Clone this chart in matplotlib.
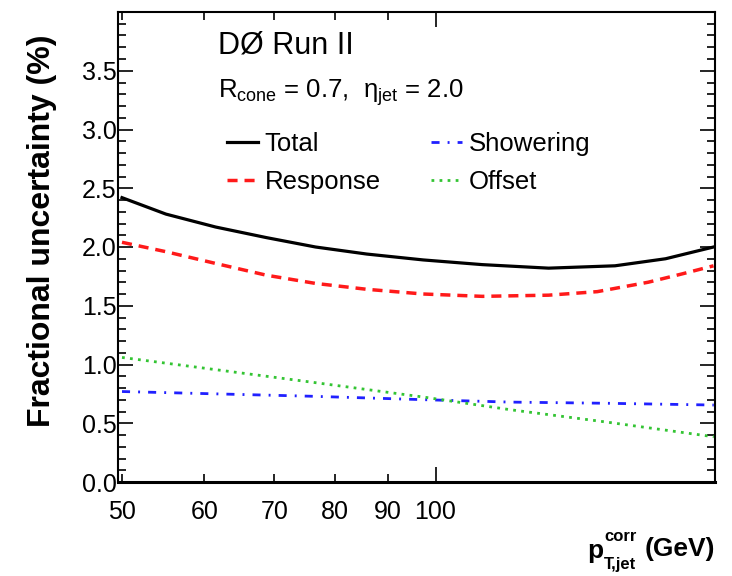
import matplotlib
matplotlib.use("Agg")
import matplotlib.pyplot as plt
from matplotlib.ticker import FixedLocator, MultipleLocator, FormatStrFormatter, NullFormatter

plt.rcParams['font.family'] = ['Liberation Sans', 'DejaVu Sans']
plt.rcParams['mathtext.fontset'] = 'custom'
plt.rcParams['mathtext.rm'] = 'Liberation Sans'
plt.rcParams['mathtext.it'] = 'Liberation Sans:italic'
plt.rcParams['mathtext.bf'] = 'Liberation Sans:bold'

# ---- data ----
pt_total = [50, 55.1, 61.5, 68.8, 76.7, 85.9, 97.3, 110.9, 128.4, 148.7, 166.3, 184.9]
total    = [2.42, 2.28, 2.17, 2.08, 2.00, 1.94, 1.89, 1.85, 1.82, 1.84, 1.90, 2.00]

pt_resp  = [50, 55.1, 61.5, 68.8, 76.7, 85.9, 97.3, 110.9, 128.4, 143.0, 160.0, 172.3, 184.9]
response = [2.04, 1.96, 1.86, 1.76, 1.69, 1.64, 1.60, 1.58, 1.59, 1.62, 1.70, 1.77, 1.84]

pt_show   = [50, 75.9, 97.9, 118, 146, 185]
showering = [0.77, 0.73, 0.70, 0.68, 0.67, 0.655]

pt_off = [50, 76, 97.9, 118, 146, 185]
offset = [1.06, 0.85, 0.72, 0.615, 0.51, 0.385]

xticks = [50, 60, 70, 80, 90, 100]
xticklabels = ["50", "60", "70", "80", "90", "100"]
yticks = [0.0, 0.5, 1.0, 1.5, 2.0, 2.5, 3.0, 3.5]

W, H = 732, 576
fig = plt.figure(figsize=(W/100, H/100), dpi=100)
ax = fig.add_axes([118/W, 1-482/H, (715-118)/W, (482-12)/H])

ax.plot(pt_total, total, color='black', lw=2.3, label='Total')
ax.plot(pt_resp, response, color='#ff1a1a', lw=2.5, dashes=(2.9, 2.0), label='Response')
ax.plot(pt_show, showering, color='#2020ff', lw=2.0, dashes=(2.9, 2.9, 0.7, 2.9), label='Showering')
ax.plot(pt_off, offset, color='#33c433', lw=2.0, dashes=(1.0, 1.9), label='Offset')

ax.set_xscale('log')
ax.set_xlim(49.56, 185.5)
ax.set_ylim(0, 4.0)

ax.xaxis.set_major_locator(FixedLocator([100]))
ax.xaxis.set_minor_locator(FixedLocator([50, 60, 70, 80, 90]))
ax.xaxis.set_major_formatter(NullFormatter())
ax.xaxis.set_minor_formatter(NullFormatter())
ax.yaxis.set_major_locator(FixedLocator(yticks + [4.0]))
ax.yaxis.set_minor_locator(MultipleLocator(0.1))
ax.yaxis.set_major_formatter(FormatStrFormatter('%.1f'))

ax.tick_params(which='both', direction='in', top=True, right=True, labelsize=18)
ax.tick_params(which='major', length=11, width=1.2)
ax.tick_params(which='minor', length=6, width=1.2)
ax.tick_params(axis='y', pad=1)
ax.set_yticklabels(['%.1f' % v for v in yticks] + [''])

# x tick labels as text at the tick positions
for v, s in zip(xticks, xticklabels):
    ax.annotate(s, xy=(v, 0), xycoords=('data', 'axes fraction'),
                xytext=(0, -18), textcoords='offset pixels',
                ha='center', va='top', fontsize=18)

for sp in ax.spines.values():
    sp.set_linewidth(1.5)
ax.spines['bottom'].set_linewidth(2.2)

ax.set_ylabel('Fractional uncertainty (%)', fontsize=23, fontweight='bold')
ax.yaxis.set_label_coords(-0.102, 0.535)

# x axis title: p_{T,jet}^{corr}  (GeV)
fig.text(715/W, 1-556/H, '(GeV)', ha='right', va='baseline', fontsize=19, fontweight='bold')
fig.text(587/W, 1-558/H, 'p', ha='left', va='baseline', fontsize=19, fontweight='bold')
fig.text(604/W, 1-541/H, 'corr', ha='left', va='baseline', fontsize=12, fontweight='bold')
fig.text(604/W, 1-569/H, 'T,jet', ha='left', va='baseline', fontsize=12, fontweight='bold')

ax.text((218-118)/597, (482-45)/470, 'DØ Run II', transform=ax.transAxes,
        fontsize=22, ha='left', va='center')
ax.text((218-118)/597, (482-93)/470, r'R$_{\rm cone}$ = 0.7,  η$_{\rm jet}$ = 2.0',
        transform=ax.transAxes, fontsize=18.5, ha='left', va='center')

ax.legend(ncol=2, loc='upper left', bbox_to_anchor=((227-118)/597, (482-132)/470),
          frameon=False, fontsize=18.5, handlelength=1.2, handletextpad=0.27,
          columnspacing=1.95, labelspacing=0.56, borderpad=0, borderaxespad=0)

fig.savefig('out.png', dpi=100)
